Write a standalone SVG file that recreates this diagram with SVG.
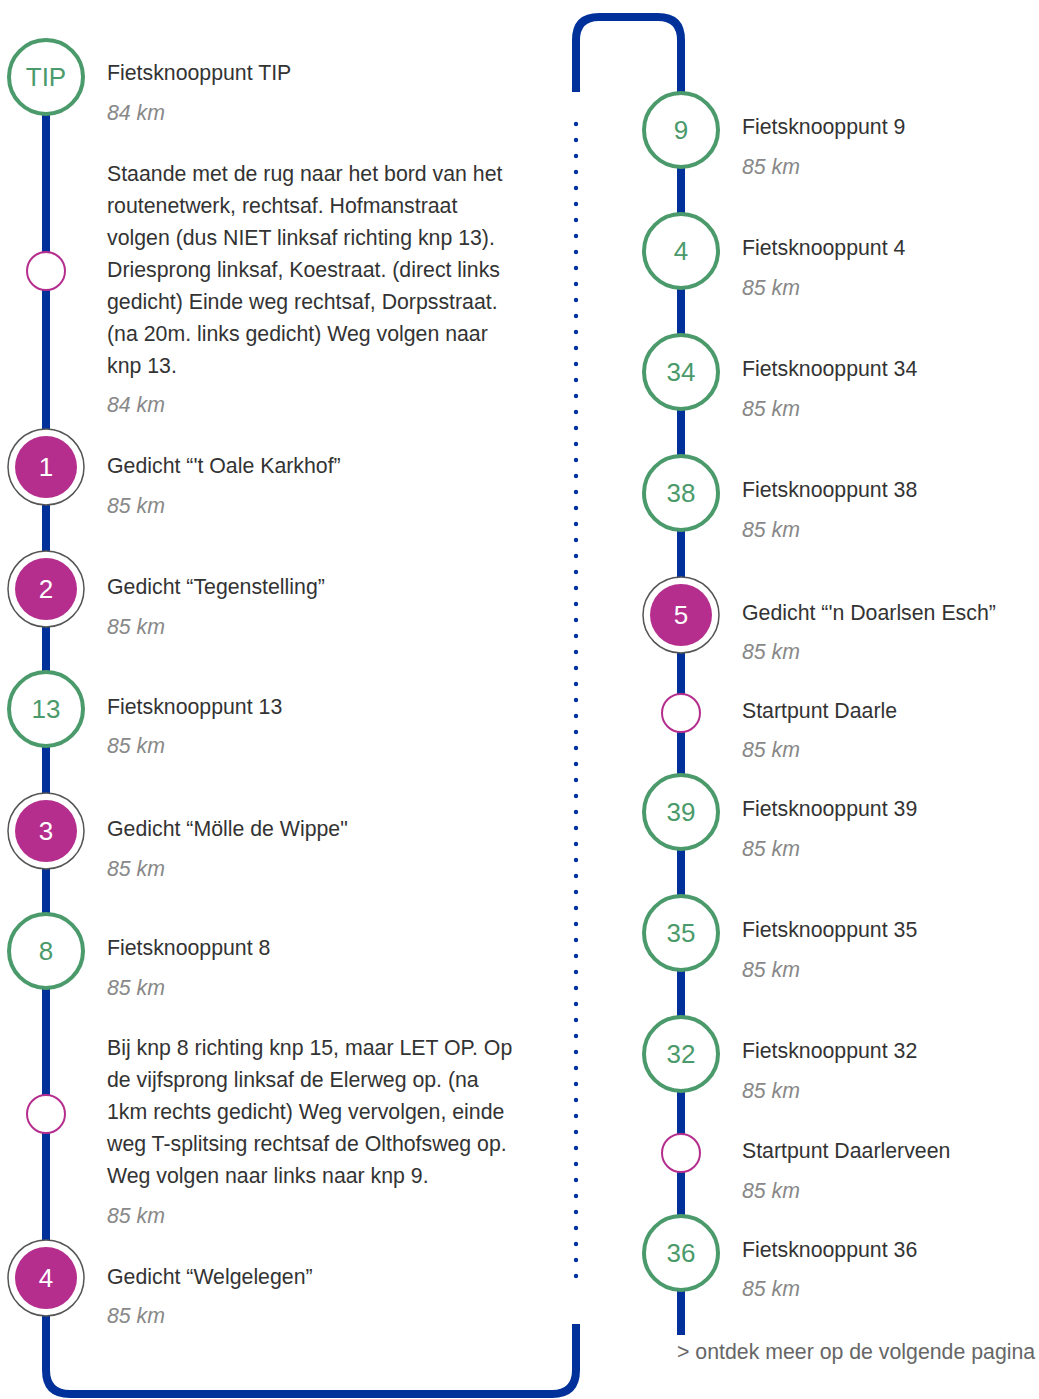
<svg xmlns="http://www.w3.org/2000/svg" width="1039" height="1399" viewBox="0 0 1039 1399">
<style>
.t{font-family:"Liberation Sans",Arial,sans-serif;font-size:21.3px;fill:#333}
.k{font-family:"Liberation Sans",Arial,sans-serif;font-size:21.3px;font-style:italic;fill:#888}
.m{font-family:"Liberation Sans",Arial,sans-serif;font-size:21.3px;fill:#666}
.g{fill:#fff;stroke:#4b9a6b;stroke-width:4}
.gl{font-family:"Liberation Sans",Arial,sans-serif;font-size:26px;fill:#4b9a6b;text-anchor:middle}
.ring{fill:#fff;stroke:#555;stroke-width:1.5}
.p{fill:#b52e8e}
.pl{font-family:"Liberation Sans",Arial,sans-serif;font-size:26px;fill:#fff;text-anchor:middle}
.s{fill:#fff;stroke:#b52e8e;stroke-width:2}
.line{fill:none;stroke:#00309a;stroke-width:8}
</style>
<g id="connectors">
<path class="line" d="M576,92 V40 Q576,17 599,17 H658 Q681,17 681,40 V1335"/>
<path class="line" d="M46,77 V1370 Q46,1394 70,1394 H552 Q576,1394 576,1370 V1324"/>
<g id="dots" fill="#00309a">
<circle cx="576" cy="124" r="2.2"/><circle cx="576" cy="140" r="2.2"/><circle cx="576" cy="156" r="2.2"/><circle cx="576" cy="172" r="2.2"/><circle cx="576" cy="188" r="2.2"/><circle cx="576" cy="204" r="2.2"/><circle cx="576" cy="220" r="2.2"/><circle cx="576" cy="236" r="2.2"/><circle cx="576" cy="252" r="2.2"/><circle cx="576" cy="268" r="2.2"/><circle cx="576" cy="284" r="2.2"/><circle cx="576" cy="300" r="2.2"/><circle cx="576" cy="316" r="2.2"/><circle cx="576" cy="332" r="2.2"/><circle cx="576" cy="348" r="2.2"/><circle cx="576" cy="364" r="2.2"/><circle cx="576" cy="380" r="2.2"/><circle cx="576" cy="396" r="2.2"/><circle cx="576" cy="412" r="2.2"/><circle cx="576" cy="428" r="2.2"/><circle cx="576" cy="444" r="2.2"/><circle cx="576" cy="460" r="2.2"/><circle cx="576" cy="476" r="2.2"/><circle cx="576" cy="492" r="2.2"/><circle cx="576" cy="508" r="2.2"/><circle cx="576" cy="524" r="2.2"/><circle cx="576" cy="540" r="2.2"/><circle cx="576" cy="556" r="2.2"/><circle cx="576" cy="572" r="2.2"/><circle cx="576" cy="588" r="2.2"/><circle cx="576" cy="604" r="2.2"/><circle cx="576" cy="620" r="2.2"/><circle cx="576" cy="636" r="2.2"/><circle cx="576" cy="652" r="2.2"/><circle cx="576" cy="668" r="2.2"/><circle cx="576" cy="684" r="2.2"/><circle cx="576" cy="700" r="2.2"/><circle cx="576" cy="716" r="2.2"/><circle cx="576" cy="732" r="2.2"/><circle cx="576" cy="748" r="2.2"/><circle cx="576" cy="764" r="2.2"/><circle cx="576" cy="780" r="2.2"/><circle cx="576" cy="796" r="2.2"/><circle cx="576" cy="812" r="2.2"/><circle cx="576" cy="828" r="2.2"/><circle cx="576" cy="844" r="2.2"/><circle cx="576" cy="860" r="2.2"/><circle cx="576" cy="876" r="2.2"/><circle cx="576" cy="892" r="2.2"/><circle cx="576" cy="908" r="2.2"/><circle cx="576" cy="924" r="2.2"/><circle cx="576" cy="940" r="2.2"/><circle cx="576" cy="956" r="2.2"/><circle cx="576" cy="972" r="2.2"/><circle cx="576" cy="988" r="2.2"/><circle cx="576" cy="1004" r="2.2"/><circle cx="576" cy="1020" r="2.2"/><circle cx="576" cy="1036" r="2.2"/><circle cx="576" cy="1052" r="2.2"/><circle cx="576" cy="1068" r="2.2"/><circle cx="576" cy="1084" r="2.2"/><circle cx="576" cy="1100" r="2.2"/><circle cx="576" cy="1116" r="2.2"/><circle cx="576" cy="1132" r="2.2"/><circle cx="576" cy="1148" r="2.2"/><circle cx="576" cy="1164" r="2.2"/><circle cx="576" cy="1180" r="2.2"/><circle cx="576" cy="1196" r="2.2"/><circle cx="576" cy="1212" r="2.2"/><circle cx="576" cy="1228" r="2.2"/><circle cx="576" cy="1244" r="2.2"/><circle cx="576" cy="1260" r="2.2"/><circle cx="576" cy="1276" r="2.2"/>
</g>
</g>

<g id="n-tip"><circle class="g" cx="46" cy="77" r="37"/><text class="gl" x="46" y="86">TIP</text>
<text class="t" x="107" y="80">Fietsknooppunt TIP</text><text class="k" x="107" y="120">84 km</text></g>

<g id="n-desc1"><circle class="s" cx="46" cy="271" r="19"/>
<text class="t" x="107" y="181">Staande met de rug naar het bord van het</text>
<text class="t" x="107" y="213">routenetwerk, rechtsaf. Hofmanstraat</text>
<text class="t" x="107" y="245">volgen (dus NIET linksaf richting knp 13).</text>
<text class="t" x="107" y="277">Driesprong linksaf, Koestraat. (direct links</text>
<text class="t" x="107" y="309">gedicht) Einde weg rechtsaf, Dorpsstraat.</text>
<text class="t" x="107" y="341">(na 20m. links gedicht) Weg volgen naar</text>
<text class="t" x="107" y="373">knp 13.</text>
<text class="k" x="107" y="412">84 km</text></g>

<g id="n-g1"><circle class="ring" cx="46" cy="467" r="38"/><circle class="p" cx="46" cy="467" r="31"/><text class="pl" x="46" y="476">1</text>
<text class="t" x="107" y="473">Gedicht “'t Oale Karkhof”</text><text class="k" x="107" y="513">85 km</text></g>

<g id="n-g2"><circle class="ring" cx="46" cy="589" r="38"/><circle class="p" cx="46" cy="589" r="31"/><text class="pl" x="46" y="598">2</text>
<text class="t" x="107" y="594">Gedicht “Tegenstelling”</text><text class="k" x="107" y="634">85 km</text></g>

<g id="n-13"><circle class="g" cx="46" cy="709" r="37"/><text class="gl" x="46" y="718">13</text>
<text class="t" x="107" y="714">Fietsknooppunt 13</text><text class="k" x="107" y="753">85 km</text></g>

<g id="n-g3"><circle class="ring" cx="46" cy="831" r="38"/><circle class="p" cx="46" cy="831" r="31"/><text class="pl" x="46" y="840">3</text>
<text class="t" x="107" y="836">Gedicht “Mölle de Wippe"</text><text class="k" x="107" y="876">85 km</text></g>

<g id="n-8"><circle class="g" cx="46" cy="951" r="37"/><text class="gl" x="46" y="960">8</text>
<text class="t" x="107" y="955">Fietsknooppunt 8</text><text class="k" x="107" y="995">85 km</text></g>

<g id="n-desc2"><circle class="s" cx="46" cy="1114" r="19"/>
<text class="t" x="107" y="1055">Bij knp 8 richting knp 15, maar LET OP. Op</text>
<text class="t" x="107" y="1087">de vijfsprong linksaf de Elerweg op. (na</text>
<text class="t" x="107" y="1119">1km rechts gedicht) Weg vervolgen, einde</text>
<text class="t" x="107" y="1151">weg T-splitsing rechtsaf de Olthofsweg op.</text>
<text class="t" x="107" y="1183">Weg volgen naar links naar knp 9.</text>
<text class="k" x="107" y="1223">85 km</text></g>

<g id="n-g4"><circle class="ring" cx="46" cy="1278" r="38"/><circle class="p" cx="46" cy="1278" r="31"/><text class="pl" x="46" y="1287">4</text>
<text class="t" x="107" y="1284">Gedicht “Welgelegen”</text><text class="k" x="107" y="1323">85 km</text></g>

<g id="n-9"><circle class="g" cx="681" cy="130" r="37"/><text class="gl" x="681" y="139">9</text>
<text class="t" x="742" y="134">Fietsknooppunt 9</text><text class="k" x="742" y="174">85 km</text></g>

<g id="n-4"><circle class="g" cx="681" cy="251" r="37"/><text class="gl" x="681" y="260">4</text>
<text class="t" x="742" y="255">Fietsknooppunt 4</text><text class="k" x="742" y="295">85 km</text></g>

<g id="n-34"><circle class="g" cx="681" cy="372" r="37"/><text class="gl" x="681" y="381">34</text>
<text class="t" x="742" y="376">Fietsknooppunt 34</text><text class="k" x="742" y="416">85 km</text></g>

<g id="n-38"><circle class="g" cx="681" cy="493" r="37"/><text class="gl" x="681" y="502">38</text>
<text class="t" x="742" y="497">Fietsknooppunt 38</text><text class="k" x="742" y="537">85 km</text></g>

<g id="n-g5"><circle class="ring" cx="681" cy="615" r="38"/><circle class="p" cx="681" cy="615" r="31"/><text class="pl" x="681" y="624">5</text>
<text class="t" x="742" y="620">Gedicht “'n Doarlsen Esch”</text><text class="k" x="742" y="659">85 km</text></g>

<g id="n-daarle"><circle class="s" cx="681" cy="713" r="19"/>
<text class="t" x="742" y="718">Startpunt Daarle</text><text class="k" x="742" y="757">85 km</text></g>

<g id="n-39"><circle class="g" cx="681" cy="812" r="37"/><text class="gl" x="681" y="821">39</text>
<text class="t" x="742" y="816">Fietsknooppunt 39</text><text class="k" x="742" y="856">85 km</text></g>

<g id="n-35"><circle class="g" cx="681" cy="933" r="37"/><text class="gl" x="681" y="942">35</text>
<text class="t" x="742" y="937">Fietsknooppunt 35</text><text class="k" x="742" y="977">85 km</text></g>

<g id="n-32"><circle class="g" cx="681" cy="1054" r="37"/><text class="gl" x="681" y="1063">32</text>
<text class="t" x="742" y="1058">Fietsknooppunt 32</text><text class="k" x="742" y="1098">85 km</text></g>

<g id="n-daarlerveen"><circle class="s" cx="681" cy="1153" r="19"/>
<text class="t" x="742" y="1158">Startpunt Daarlerveen</text><text class="k" x="742" y="1198">85 km</text></g>

<g id="n-36"><circle class="g" cx="681" cy="1253" r="37"/><text class="gl" x="681" y="1262">36</text>
<text class="t" x="742" y="1257">Fietsknooppunt 36</text><text class="k" x="742" y="1296">85 km</text></g>

<g id="more"><text class="m" x="677" y="1359">&gt; ontdek meer op de volgende pagina</text></g>
</svg>
